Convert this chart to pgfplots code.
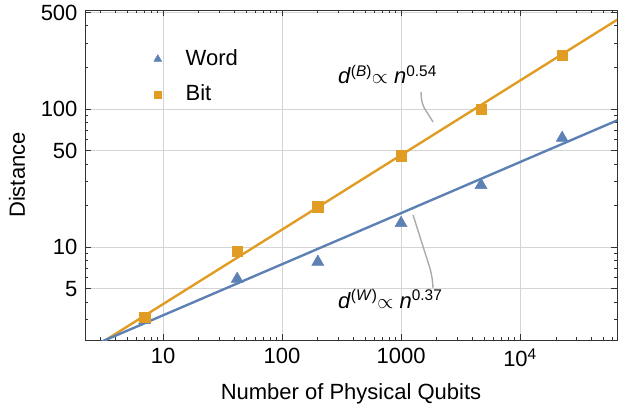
\documentclass[border=0pt]{standalone}
\usepackage{pgfplots}
\pgfplotsset{compat=1.18}
\usepackage{fontspec}
\setmainfont{Liberation Sans}
\definecolor{mblue}{RGB}{94,129,181}
\definecolor{morange}{RGB}{225,156,36}
\definecolor{callout}{RGB}{170,170,170}
\begin{document}
\fontsize{22bp}{26bp}\selectfont
\begin{tikzpicture}
\begin{axis}[
  at={(0,0)}, anchor=south west,
  scale only axis, width=532bp, height=330bp,
  xmode=log, ymode=log,
  xmin=2.21, xmax=65300, ymin=2.12, ymax=521,
  xtick={10,100,1000,10000},
  xticklabels={10,100,1000,10\textsuperscript{4}},
  ytick={5,10,50,100,500},
  yticklabels={5,10,50,100,500},
  minor xtick={3,4,5,6,7,8,9,20,30,40,50,60,70,80,90,200,300,400,500,600,700,800,900,2000,3000,4000,5000,6000,7000,8000,9000,20000,30000,40000,50000,60000},
  minor ytick={3,4,6,7,8,9,20,30,40,60,70,80,90,200,300,400},
  tick align=inside,
  major tick length=6bp, minor tick length=3.5bp,
  every tick/.style={black!80, line width=0.7bp},
  axis line style={black!80, line width=0.8bp},
  grid=major,
  major grid style={black!17, line width=0.8bp},
  ticklabel style={font=\fontsize{22bp}{26bp}\selectfont},
  xticklabel style={yshift=-1bp},
  xlabel={Number of Physical Qubits},
  ylabel={Distance},
  xlabel style={at={(axis description cs:0.5,-0.163)}, anchor=center},
  ylabel style={at={(axis description cs:-0.128,0.5)}, anchor=center},
  label style={font=\fontsize{22bp}{26bp}\selectfont},
  legend style={at={(rel axis cs:0.1235,0.893)}, anchor=north west,
    draw=none, fill=none, row sep=12bp,
    font=\fontsize{22bp}{26bp}\selectfont,
    /tikz/every odd column/.append style={column sep=22bp}},
  legend cell align=left,
  clip mode=individual,
]
% fitted power laws
\addplot[forget plot, morange, line width=2.4bp] coordinates {(2,1.617) (70000,459)};
\addplot[forget plot, mblue, line width=2.4bp] coordinates {(2,1.764) (70000,84.7)};
% data
\addplot[only marks, mark=triangle*, mark size=7bp, color=mblue,
  mark options={draw=mblue, fill=mblue},
  legend image post style={mark size=4.5bp}] coordinates {
  (7,2.95) (42,5.87) (200,7.8) (1000,14.9) (4700,28.1) (22600,61.6)};
\addlegendentry{Word}
\addplot[only marks, mark=square*, mark size=5.2bp, color=morange,
  mark options={draw=morange, fill=morange},
  legend image post style={mark size=3.6bp}] coordinates {
  (7,3.1) (42,9.35) (200,19.6) (1000,46) (4700,100) (22600,245)};
\addlegendentry{Bit}
% labels and callouts
\node[anchor=base west, inner sep=0pt, font=\fontsize{22bp}{26bp}\selectfont] at (axis cs:295,151.7)
  {\textit{d}\textsuperscript{(\textit{B})}$\propto$ \textit{n}\textsuperscript{0.54}};
\node[anchor=base west, inner sep=0pt, font=\fontsize{22bp}{26bp}\selectfont] at (axis cs:295,3.61)
  {\textit{d}\textsuperscript{(\textit{W})}$\propto$ \textit{n}\textsuperscript{0.37}};
\draw[callout, line width=1.4bp, rounded corners=6bp]
  (axis cs:1472,132.7) -- (axis cs:1493,108.6) -- (axis cs:1858,80.5);
\draw[callout, line width=1.4bp, rounded corners=8bp]
  (axis cs:1262,17.06) -- (axis cs:1824,6.27) -- (axis cs:1858,5.05);
\end{axis}
\pgfresetboundingbox
\path[use as bounding box] (-85bp,-71bp) rectangle (534bp,340bp);
\end{tikzpicture}
\end{document}
